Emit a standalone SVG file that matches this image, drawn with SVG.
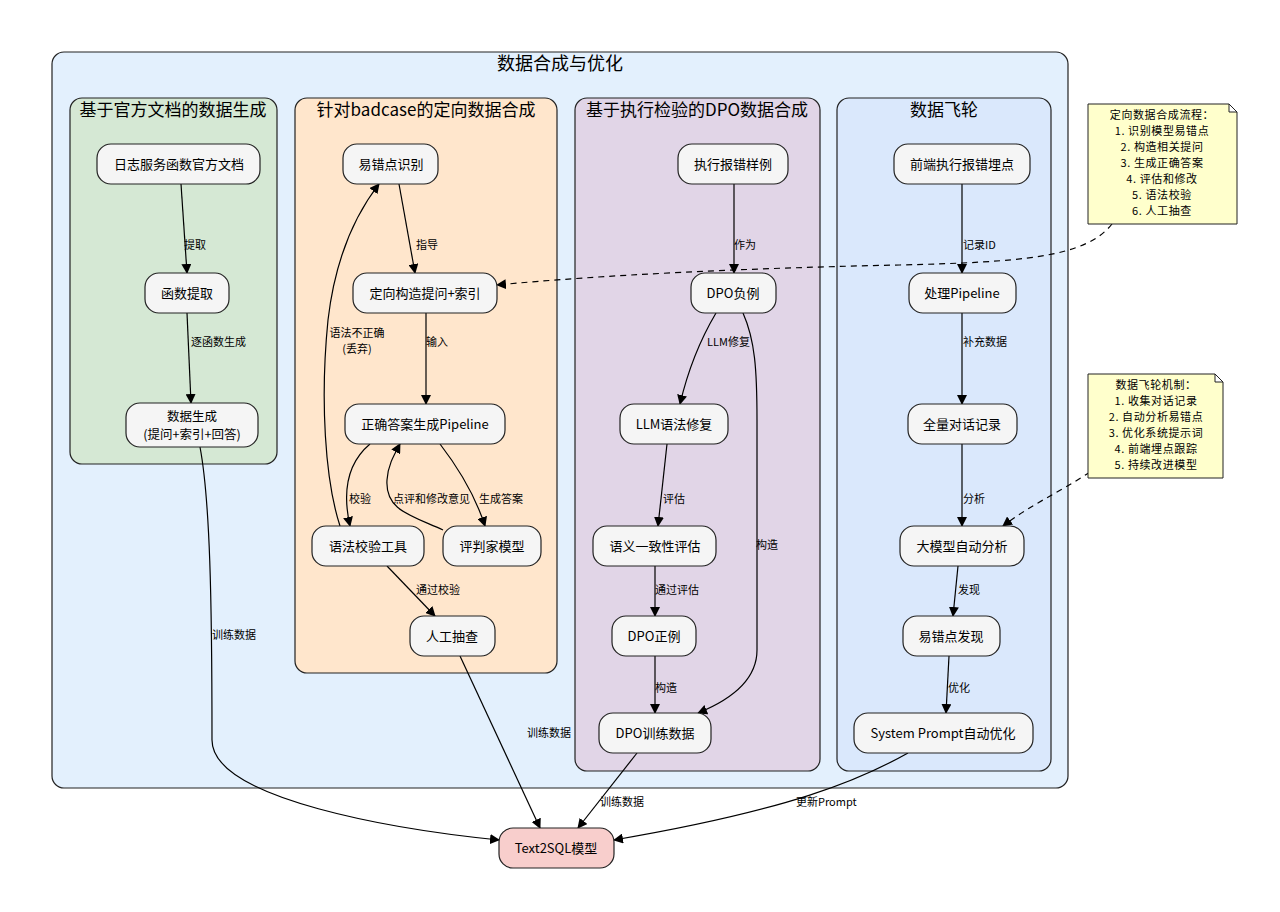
<svg xmlns="http://www.w3.org/2000/svg" width="1280" height="912" viewBox="0 0 1280 912">
<defs>
<marker id="ah" markerWidth="10" markerHeight="10" refX="9" refY="5" orient="auto" markerUnits="userSpaceOnUse">
<path d="M0,0 L10,5 L0,10 z" fill="#000"/>
</marker>
<style>
text{font-family:"Noto Sans CJK SC","Noto Sans",sans-serif;fill:#000;}
.frame{fill:#e3f0fd;stroke:#222;stroke-width:1.2;}
.cl{stroke:#222;stroke-width:1.2;}
.ct{font-size:17px;text-anchor:middle;}
.node rect{fill:#f5f5f5;stroke:#222;stroke-width:1.2;}
.node text{font-size:13px;text-anchor:middle;}
.e{fill:none;stroke:#000;stroke-width:1.2;marker-end:url(#ah);}
.d{fill:none;stroke:#000;stroke-width:1.2;stroke-dasharray:6,5;marker-end:url(#ah);}
.lb{font-size:11px;}
.note path{fill:#ffffcc;stroke:#222;stroke-width:1;}
.note text{font-size:11px;letter-spacing:0.6px;text-anchor:middle;}
</style>
</defs>
<rect width="1280" height="912" fill="#fff"/>
<g id="main-frame">
<rect class="frame" x="52" y="52" width="1016" height="736" rx="12"/>
<text x="560" y="70" style="font-size:18px;text-anchor:middle">数据合成与优化</text>
</g>
<g id="cluster-doc">
<rect class="cl" x="70" y="98" width="207" height="366" rx="12" fill="#d5e8d4"/>
<text class="ct" x="173" y="116">基于官方文档的数据生成</text>
</g>
<g id="cluster-badcase">
<rect class="cl" x="295" y="98" width="262" height="575" rx="12" fill="#ffe6cc"/>
<text class="ct" x="426" y="116">针对badcase的定向数据合成</text>
</g>
<g id="cluster-dpo">
<rect class="cl" x="575" y="98" width="245" height="673" rx="12" fill="#e1d5e7"/>
<text class="ct" x="697" y="116">基于执行检验的DPO数据合成</text>
</g>
<g id="cluster-flywheel">
<rect class="cl" x="837" y="98" width="214" height="673" rx="12" fill="#dae8fc"/>
<text class="ct" x="944" y="116">数据飞轮</text>
</g>

<g id="connectors">
<path class="e" d="M181,184 L187,273"/>
<text class="lb" x="184" y="249">提取</text>
<path class="e" d="M187,313 L191,403"/>
<text class="lb" x="191" y="346">逐函数生成</text>
<path class="e" d="M200,447 C210,500 212,600 212,740 C212,800 400,830 499,840"/>
<text class="lb" x="212" y="639">训练数据</text>

<path class="e" d="M399,184 L415,273"/>
<text class="lb" x="416" y="249">指导</text>
<path class="e" d="M426,313 L426,404"/>
<text class="lb" x="426" y="346">输入</text>
<path class="e" d="M370,444 C345,465 343,495 350,526"/>
<text class="lb" x="349" y="503">校验</text>
<path class="e" d="M340,526 C325,480 320,400 328,320 C335,260 355,215 379,184"/>
<text class="lb" text-anchor="middle"><tspan x="357" y="337">语法不正确</tspan><tspan x="357" y="353">(丢弃)</tspan></text>
<path class="e" d="M443,530 C410,515 385,510 387,480 C388,465 394,455 400,444"/>
<text class="lb" x="393" y="503">点评和修改意见</text>
<path class="e" d="M440,444 C460,470 475,495 485,526"/>
<text class="lb" x="479" y="503">生成答案</text>
<path class="e" d="M387,566 L435,616"/>
<text class="lb" x="416" y="594">通过校验</text>
<path class="e" d="M460,656 L540,828"/>
<text class="lb" x="527" y="737">训练数据</text>

<path class="e" d="M734,184 L734,273"/>
<text class="lb" x="734" y="249">作为</text>
<path class="e" d="M716,313 C700,340 688,370 680,404"/>
<text class="lb" x="707" y="346">LLM修复</text>
<path class="e" d="M743,313 C755,340 757,370 757,420 L757,650 C757,680 730,700 698,713"/>
<text class="lb" x="756" y="549">构造</text>
<path class="e" d="M667,444 L658,526"/>
<text class="lb" x="663" y="503">评估</text>
<path class="e" d="M655,566 L655,616"/>
<text class="lb" x="655" y="594">通过评估</text>
<path class="e" d="M655,656 L655,713"/>
<text class="lb" x="655" y="692">构造</text>
<path class="e" d="M637,753 L578,828"/>
<text class="lb" x="600" y="806">训练数据</text>

<path class="e" d="M962,184 L962,273"/>
<text class="lb" x="963" y="249">记录ID</text>
<path class="e" d="M962,313 L962,404"/>
<text class="lb" x="963" y="346">补充数据</text>
<path class="e" d="M962,444 L962,526"/>
<text class="lb" x="963" y="503">分析</text>
<path class="e" d="M958,566 L953,616"/>
<text class="lb" x="958" y="594">发现</text>
<path class="e" d="M949,656 L946,713"/>
<text class="lb" x="948" y="692">优化</text>
<path class="e" d="M908,753 C860,780 790,810 614,840"/>
<text class="lb" x="796" y="806">更新Prompt</text>

<path class="d" d="M1112,224 C1085,258 1020,262 900,265 C750,268 600,275 497,285"/>
<path class="d" d="M1090,472 C1060,492 1030,505 1003,526"/>
</g>

<g id="n-doc" class="node"><rect x="97" y="144" width="163" height="40" rx="14"/><text x="179" y="169">日志服务函数官方文档</text></g>
<g id="n-extract" class="node"><rect x="145" y="273" width="84" height="40" rx="14"/><text x="187" y="298">函数提取</text></g>
<g id="n-gen" class="node"><rect x="126" y="403" width="132" height="44" rx="14"/><text style="font-size:12.5px"><tspan x="192" y="421">数据生成</tspan><tspan x="192" y="439">(提问+索引+回答)</tspan></text></g>

<g id="n-err" class="node"><rect x="343" y="144" width="95" height="40" rx="14"/><text x="391" y="169">易错点识别</text></g>
<g id="n-construct" class="node"><rect x="353" y="273" width="144" height="40" rx="14"/><text x="425" y="298">定向构造提问+索引</text></g>
<g id="n-pipeline" class="node"><rect x="345" y="404" width="160" height="40" rx="14"/><text x="425" y="429">正确答案生成Pipeline</text></g>
<g id="n-syntax" class="node"><rect x="312" y="526" width="112" height="40" rx="14"/><text x="368" y="551">语法校验工具</text></g>
<g id="n-judge" class="node"><rect x="443" y="526" width="98" height="40" rx="14"/><text x="492" y="551">评判家模型</text></g>
<g id="n-manual" class="node"><rect x="410" y="616" width="85" height="40" rx="14"/><text x="452" y="641">人工抽查</text></g>

<g id="n-execerr" class="node"><rect x="678" y="144" width="110" height="40" rx="14"/><text x="733" y="169">执行报错样例</text></g>
<g id="n-neg" class="node"><rect x="691" y="273" width="85" height="40" rx="14"/><text x="733" y="298">DPO负例</text></g>
<g id="n-fix" class="node"><rect x="620" y="404" width="108" height="40" rx="14"/><text x="674" y="429">LLM语法修复</text></g>
<g id="n-sem" class="node"><rect x="593" y="526" width="123" height="40" rx="14"/><text x="655" y="551">语义一致性评估</text></g>
<g id="n-pos" class="node"><rect x="612" y="616" width="84" height="40" rx="14"/><text x="654" y="641">DPO正例</text></g>
<g id="n-dpodata" class="node"><rect x="599" y="713" width="112" height="40" rx="14"/><text x="655" y="738">DPO训练数据</text></g>

<g id="n-front" class="node"><rect x="894" y="144" width="136" height="40" rx="14"/><text x="962" y="169">前端执行报错埋点</text></g>
<g id="n-proc" class="node"><rect x="909" y="273" width="107" height="40" rx="14"/><text x="962" y="298">处理Pipeline</text></g>
<g id="n-all" class="node"><rect x="908" y="404" width="109" height="40" rx="14"/><text x="962" y="429">全量对话记录</text></g>
<g id="n-llm" class="node"><rect x="900" y="526" width="124" height="40" rx="14"/><text x="962" y="551">大模型自动分析</text></g>
<g id="n-found" class="node"><rect x="903" y="616" width="97" height="40" rx="14"/><text x="951" y="641">易错点发现</text></g>
<g id="n-sysprompt" class="node"><rect x="854" y="713" width="179" height="40" rx="14"/><text x="943" y="738">System Prompt自动优化</text></g>

<g id="n-text2sql" class="node"><rect x="499" y="828" width="115" height="40" rx="14" style="fill:#f8cecc"/><text x="556" y="853">Text2SQL模型</text></g>

<g id="note-1" class="note">
<path d="M1088,104 L1229,104 L1237,112 L1237,224 L1088,224 Z M1229,104 L1229,112 L1237,112"/>
<text><tspan x="1162" y="119">定向数据合成流程：</tspan><tspan x="1162" y="135">1. 识别模型易错点</tspan><tspan x="1162" y="151">2. 构造相关提问</tspan><tspan x="1162" y="167">3. 生成正确答案</tspan><tspan x="1162" y="183">4. 评估和修改</tspan><tspan x="1162" y="199">5. 语法校验</tspan><tspan x="1162" y="215">6. 人工抽查</tspan></text>
</g>
<g id="note-2" class="note">
<path d="M1088,374 L1215,374 L1223,382 L1223,478 L1088,478 Z M1215,374 L1215,382 L1223,382"/>
<text><tspan x="1156" y="389">数据飞轮机制：</tspan><tspan x="1156" y="405">1. 收集对话记录</tspan><tspan x="1156" y="421">2. 自动分析易错点</tspan><tspan x="1156" y="437">3. 优化系统提示词</tspan><tspan x="1156" y="453">4. 前端埋点跟踪</tspan><tspan x="1156" y="469">5. 持续改进模型</tspan></text>
</g>
</svg>
